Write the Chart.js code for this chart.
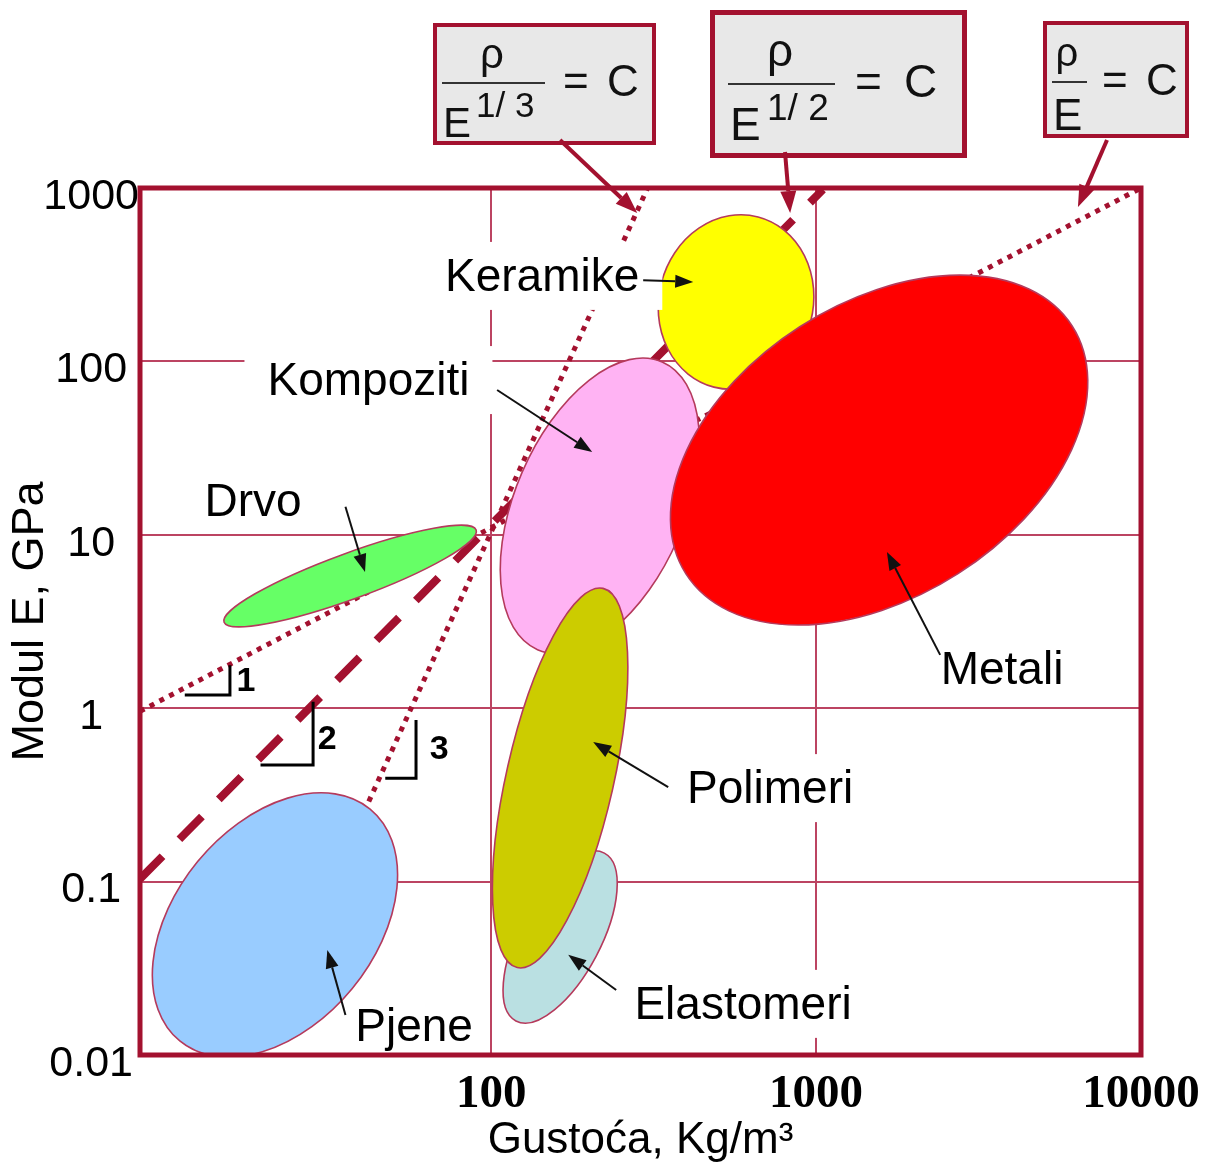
<!DOCTYPE html>
<html><head><meta charset="utf-8">
<script src="https://cdn.jsdelivr.net/npm/chart.js@4"></script>
<style>html,body{margin:0;padding:0;background:#fff;}#wrap{width:1215px;height:1164px;}</style>
</head><body><div id="wrap"><canvas id="c" width="1215" height="1164"></canvas></div>
<script>
// ---------- axes ----------
const densityTicks = [100, 1000, 10000];
const modulusTicks = [0.01, 0.1, 1, 10, 100, 1000];
const densityMin = 8.3, densityMax = 10000;
const modulusMin = 0.01, modulusMax = 1000;

// ---------- guide lines (rho/E^n = C) ----------
const guideNames   = ['ρ/E = C', 'ρ/E^1/2 = C', 'ρ/E^1/3 = C'];
const guideDensity = [[8.3, 10000], [8.3, 1050], [42, 303]];
const guideModulus = [[0.96, 1000], [0.1035, 980], [0.29, 1000]];

// ---------- material regions (ellipses) ----------
const materials     = ['Pjene', 'Drvo', 'Kompoziti', 'Keramike', 'Metali', 'Elastomeri', 'Polimeri'];
const centerDensity = [21.6, 36.8, 216, 567, 1563, 163, 163];
const centerModulus = [0.0562, 5.78, 14.7, 220, 30.8, 0.0479, 0.396];
const tipDensity    = [42.4, 89.9, 336, 663, 6138, 223, 221];
const tipModulus    = [0.262, 10.66, 99.3, 681, 160, 0.146, 4.91];
const widthRatio    = [0.667, 0.17, 0.54, 0.877, 0.639, 0.43, 0.276];

// label anchors (data coords) and arrows
const labelDensity  = [57.9, 18.5, 41.9, 143.5, 3735, 596, 722];
const labelModulus  = [0.0143, 15.2, 76.0, 303, 1.64, 0.0192, 0.337];
const arrowFromDensity = [35.6, 35.6, 104.3, 293.6, 2409, 242.5, 350.6];
const arrowFromModulus = [0.0170, 14.5, 68.4, 294, 2.03, 0.0237, 0.351];
const arrowToDensity   = [31.3, 40.9, 204.6, 418.6, 1652, 172.6, 206];
const arrowToModulus   = [0.0403, 6.10, 30.0, 287, 7.96, 0.0378, 0.638];

// slope triangles
const slopeLabels = ['1', '2', '3'];
const slopeDensity = [[15.7, 15.7, 11.4], [28.3, 28.3, 19.5], [58.7, 58.7, 47.2]];
const slopeModulus = [[1.77, 1.19, 1.19], [1.09, 0.470, 0.470], [0.855, 0.395, 0.395]];
const slopeLabelDensity = [17.6, 31.3, 69.2];
const slopeLabelModulus = [1.42, 0.656, 0.574];

// formula boxes: arrow tips in data coords
const formulaTipDensity = [281.5, 832, 6397];
const formulaTipModulus = [717, 717, 776];

// ---------- styles ----------
const crimson = '#A3112F';
const gridColor = '#BC4462';
const fills = ['#99CCFF', '#66FF66', '#FFB3F3', '#FFFF00', '#FF0000', '#BAE0E2', '#CCCC00'];
const labelBox = [false, false, true, true, true, true, true];
const guideWidth = [5, 8, 5];
const guideDash = [[5, 6], [32, 24], [5, 6]];
const SANS = "'Liberation Sans', Arial, sans-serif";

function P(chart, d, m) {
  return [chart.scales.x.getPixelForValue(d), chart.scales.y.getPixelForValue(m)];
}
function arrow(ctx, x1, y1, x2, y2, color, lw, hl, hw) {
  const ang = Math.atan2(y2 - y1, x2 - x1);
  const bx = x2 - hl * Math.cos(ang), by = y2 - hl * Math.sin(ang);
  ctx.strokeStyle = color; ctx.fillStyle = color; ctx.lineWidth = lw; ctx.lineCap = 'butt';
  ctx.beginPath(); ctx.moveTo(x1, y1); ctx.lineTo(bx, by); ctx.stroke();
  ctx.beginPath(); ctx.moveTo(x2, y2);
  ctx.lineTo(bx + hw / 2 * Math.sin(ang), by - hw / 2 * Math.cos(ang));
  ctx.lineTo(bx - hw / 2 * Math.sin(ang), by + hw / 2 * Math.cos(ang));
  ctx.closePath(); ctx.fill();
}

const formulaBoxes = [
  { x: 435, y: 25, w: 219, h: 118, lw: 4, tail: [560, 140],
    rho: [492, 68, 42], bar: [442, 545, 83], E: [443, 137, 42], sup: ['1/ 3', 476, 117, 35], eq: [563, 607, 96, 44] },
  { x: 712.5, y: 12.5, w: 252, h: 143, lw: 5, tail: [785, 152],
    rho: [780, 66, 46], bar: [728, 835, 84], E: [730, 140, 46], sup: ['1/ 2', 767, 120, 37], eq: [855, 904, 97, 46] },
  { x: 1045, y: 23, w: 142, h: 113, lw: 4, tail: [1107, 140],
    rho: [1067, 66, 40], bar: [1052, 1087, 82], E: [1053, 130, 44], sup: null, eq: [1102, 1146, 95, 44] }
];

const drawPlugin = {
  id: 'ashby',
  afterDatasetsDraw(chart) {
    const ctx = chart.ctx, a = chart.chartArea;
    // ellipses
    ctx.save();
    ctx.beginPath(); ctx.rect(a.left, a.top, a.right - a.left, a.bottom - a.top); ctx.clip();
    materials.forEach((m, i) => {
      const [cx, cy] = P(chart, centerDensity[i], centerModulus[i]);
      const [tx, ty] = P(chart, tipDensity[i], tipModulus[i]);
      const r = Math.hypot(tx - cx, ty - cy), ang = Math.atan2(ty - cy, tx - cx);
      ctx.beginPath(); ctx.ellipse(cx, cy, r, r * widthRatio[i], ang, 0, Math.PI * 2);
      ctx.fillStyle = fills[i]; ctx.fill();
      ctx.lineWidth = 1.6; ctx.strokeStyle = '#B53A5C'; ctx.stroke();
    });
    ctx.restore();
    // labels
    ctx.save();
    ctx.font = '46px ' + SANS; ctx.textAlign = 'center'; ctx.textBaseline = 'middle';
    materials.forEach((m, i) => {
      const [lx, ly] = P(chart, labelDensity[i], labelModulus[i]);
      const w = ctx.measureText(m).width;
      if (labelBox[i]) { ctx.fillStyle = '#fff'; ctx.fillRect(lx - w / 2 - 23, ly - 36, w + 46, 68); }
      ctx.fillStyle = '#000'; ctx.fillText(m, lx, ly);
    });
    // slope triangles
    ctx.strokeStyle = '#000'; ctx.lineWidth = 3;
    slopeLabels.forEach((s, i) => {
      ctx.beginPath();
      slopeDensity[i].forEach((d, j) => {
        const [x, y] = P(chart, d, slopeModulus[i][j]);
        if (j === 0) ctx.moveTo(x, y); else ctx.lineTo(x, y);
      });
      ctx.stroke();
      const [x, y] = P(chart, slopeLabelDensity[i], slopeLabelModulus[i]);
      ctx.font = 'bold 34px ' + SANS; ctx.fillStyle = '#000'; ctx.fillText(s, x, y);
    });
    // black arrows
    materials.forEach((m, i) => {
      const [x1, y1] = P(chart, arrowFromDensity[i], arrowFromModulus[i]);
      const [x2, y2] = P(chart, arrowToDensity[i], arrowToModulus[i]);
      arrow(ctx, x1, y1, x2, y2, '#111', 2, 18, 13);
    });
    ctx.restore();
  },
  afterDraw(chart) {
    const ctx = chart.ctx, a = chart.chartArea;
    ctx.save();
    ctx.strokeStyle = crimson; ctx.lineWidth = 5;
    ctx.strokeRect(a.left, a.top, a.right - a.left, a.bottom - a.top);
    formulaBoxes.forEach((b, i) => {
      ctx.fillStyle = '#E8E8E8'; ctx.fillRect(b.x, b.y, b.w, b.h);
      ctx.lineWidth = b.lw; ctx.strokeStyle = crimson; ctx.strokeRect(b.x, b.y, b.w, b.h);
      ctx.fillStyle = '#111'; ctx.textBaseline = 'alphabetic';
      ctx.font = b.rho[2] + 'px ' + SANS; ctx.textAlign = 'center'; ctx.fillText('ρ', b.rho[0], b.rho[1]);
      ctx.strokeStyle = '#333'; ctx.lineWidth = 2;
      ctx.beginPath(); ctx.moveTo(b.bar[0], b.bar[2]); ctx.lineTo(b.bar[1], b.bar[2]); ctx.stroke();
      ctx.textAlign = 'left';
      ctx.font = b.E[2] + 'px ' + SANS; ctx.fillText('E', b.E[0], b.E[1]);
      if (b.sup) { ctx.font = b.sup[3] + 'px ' + SANS; ctx.fillText(b.sup[0], b.sup[1], b.sup[2]); }
      ctx.font = b.eq[3] + 'px ' + SANS; ctx.fillText('=', b.eq[0], b.eq[2]); ctx.fillText('C', b.eq[1], b.eq[2]);
      const [tx, ty] = P(chart, formulaTipDensity[i], formulaTipModulus[i]);
      arrow(ctx, b.tail[0], b.tail[1], tx, ty, crimson, 4, 22, 16);
    });
    ctx.restore();
  }
};

const datasets = guideNames.map((n, i) => ({
  label: n,
  data: guideDensity[i].map((d, j) => ({ x: d, y: guideModulus[i][j] })),
  showLine: true, pointRadius: 0, borderColor: crimson, borderWidth: guideWidth[i],
  borderDash: guideDash[i], fill: false, tension: 0
}));

new Chart(document.getElementById('c'), {
  type: 'scatter',
  data: { datasets },
  options: {
    responsive: false, animation: false, devicePixelRatio: 1,
    layout: { padding: { top: 188, right: 74, bottom: 0, left: 0 } },
    plugins: { legend: { display: false }, tooltip: { enabled: false } },
    scales: {
      x: {
        type: 'logarithmic', min: densityMin, max: densityMax,
        afterBuildTicks: s => { s.ticks = densityTicks.map(v => ({ value: v })); },
        afterFit: s => { s.height = 109; },
        grid: { color: gridColor, lineWidth: 2, drawTicks: false },
        border: { display: false },
        ticks: { callback: v => String(v), autoSkip: false, maxRotation: 0, padding: 12, color: '#000',
                 font: { family: "'Liberation Serif', 'Times New Roman', serif", weight: 'bold', size: 47 } },
        title: { display: true, text: 'Gustoća, Kg/m³', color: '#000', padding: 0,
                 font: { family: SANS, size: 44, lineHeight: 1.05 } }
      },
      y: {
        type: 'logarithmic', min: modulusMin, max: modulusMax,
        afterBuildTicks: s => { s.ticks = modulusTicks.map(v => ({ value: v })); },
        afterFit: s => { s.width = 140; },
        grid: { color: gridColor, lineWidth: 2, drawTicks: false },
        border: { display: false },
        ticks: { callback: v => String(v), autoSkip: false, padding: 1, crossAlign: 'center', labelOffset: 9,
                 color: '#000', font: { family: SANS, size: 43 } },
        title: { display: true, text: 'Modul E, GPa', color: '#000', padding: 4,
                 font: { family: SANS, size: 45, lineHeight: 1.2 } }
      }
    }
  },
  plugins: [drawPlugin]
});
</script></body></html>
